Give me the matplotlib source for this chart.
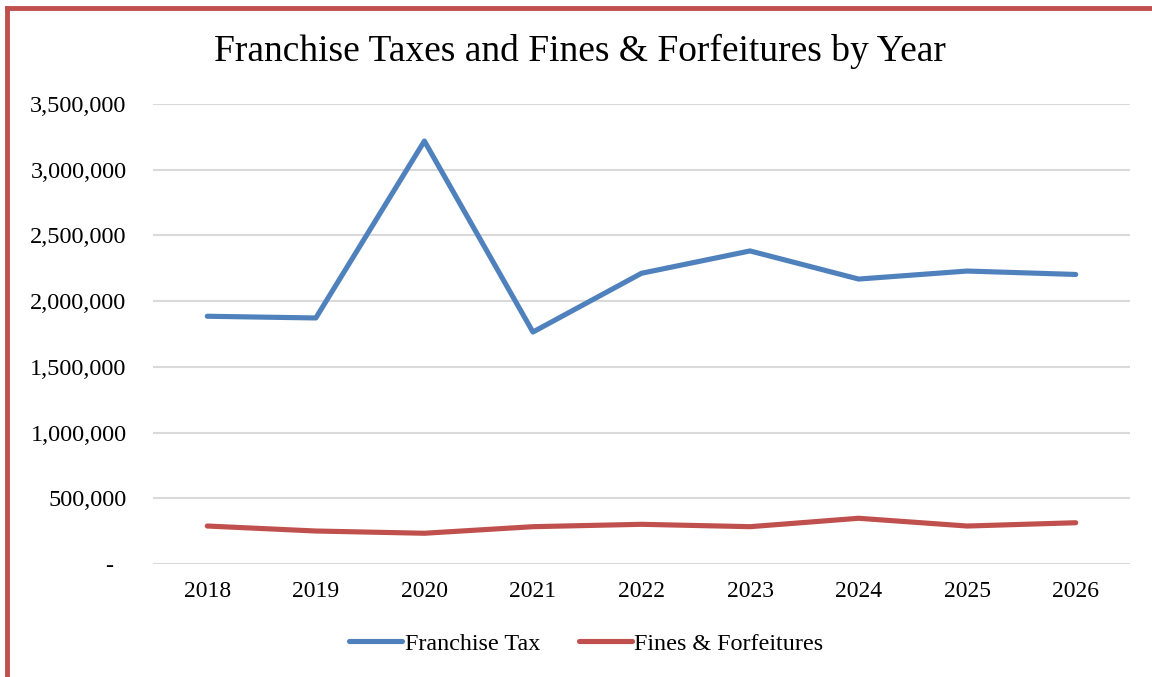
import matplotlib.pyplot as plt
from matplotlib.lines import Line2D
from matplotlib.ticker import FuncFormatter

years = ["2018", "2019", "2020", "2021", "2022", "2023", "2024", "2025", "2026"]
franchise_tax = [1885000, 1872000, 3218000, 1765000, 2212000, 2382000, 2168000, 2229000, 2203000]
fines_forfeitures = [289000, 251000, 234000, 284000, 302000, 284000, 348000, 289000, 314000]
y_ticks = [0, 500000, 1000000, 1500000, 2000000, 2500000, 3000000, 3500000]

plt.rcParams["font.family"] = ["Liberation Serif", "DejaVu Serif"]

blue = "#4F81BD"
red = "#C0504D"
grid = "#D9D9D9"

fig = plt.figure(figsize=(11.52, 6.77), dpi=100)
ax = fig.add_axes([0.1328, 0.1669, 0.8481, 0.6795])

x = range(len(years))
ax.plot(x, franchise_tax, color=blue, lw=3.7, solid_capstyle="round",
        solid_joinstyle="round", label="Franchise Tax", zorder=3)
ax.plot(x, fines_forfeitures, color=red, lw=3.7, solid_capstyle="round",
        solid_joinstyle="round", label="Fines & Forfeitures", zorder=3)

ax.set_xlim(-0.5, len(years) - 0.5)
ax.set_ylim(0, 3500000)
ax.set_xticks(list(x))
ax.set_xticklabels(years)
ax.set_yticks(y_ticks)
ax.yaxis.set_major_formatter(FuncFormatter(lambda v, p: "-  " if v == 0 else f"{int(v):,}"))
ax.tick_params(axis="both", length=0, labelsize=17)
ax.tick_params(axis="y", pad=19, labelsize=17.5)
ax.tick_params(axis="x", pad=12)
ax.grid(axis="y", color=grid, lw=1.5)
ax.set_axisbelow(True)
for s in ax.spines.values():
    s.set_visible(False)

fig.text(0.503, 0.924, "Franchise Taxes and Fines & Forfeitures by Year",
         ha="center", va="center", fontsize=27)

handles = [Line2D([], [], color=blue, lw=3.7, solid_capstyle="round"),
           Line2D([], [], color=red, lw=3.7, solid_capstyle="round")]
fig.legend(handles, ["Franchise Tax", "Fines & Forfeitures"], loc="center",
           bbox_to_anchor=(0.509, 0.049), ncol=2, frameon=False, fontsize=17.4,
           handlelength=2.2, handletextpad=0.1, columnspacing=1.6)

# red frame along the left and top edges
fig.add_artist(Line2D([0.0065, 0.0065], [0, 0.988], color=red, lw=3.5,
                      transform=fig.transFigure, solid_capstyle="projecting"))
fig.add_artist(Line2D([0.0065, 1.0], [0.988, 0.988], color=red, lw=3.5,
                      transform=fig.transFigure, solid_capstyle="projecting"))

fig.savefig("out.png", dpi=100)
